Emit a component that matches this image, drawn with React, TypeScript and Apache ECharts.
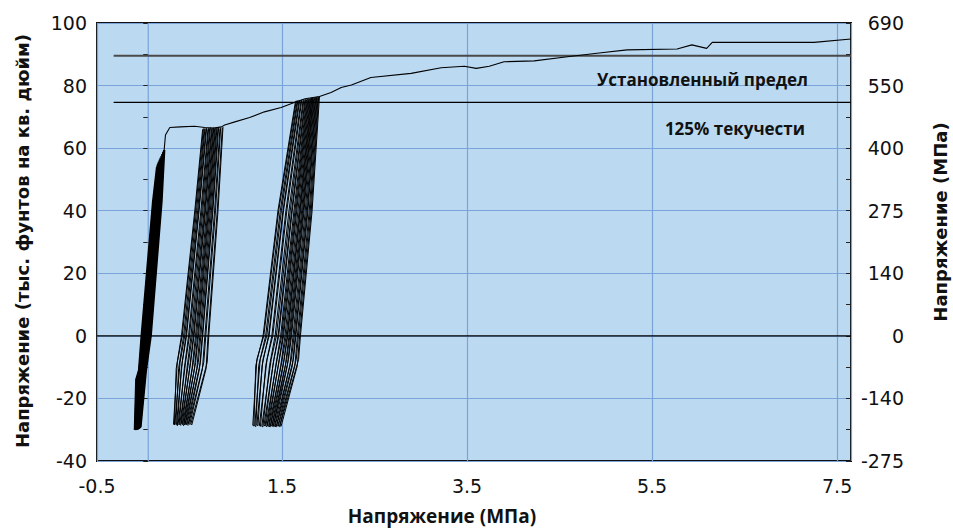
import React, { useEffect, useRef } from 'react';
import * as echarts from 'echarts';

// ---- axis ticks ----
const xTickLabels = ['-0.5', '1.5', '3.5', '5.5', '7.5'];
const yTickValues = [-40, -20, 0, 20, 40, 60, 80, 100];
const yTickLabelsMPa = ['-275', '-140', '0', '140', '275', '400', '550', '690'];

// ---- reference levels (ksi) ----
const specifiedLimit = 89.5;
const yield125 = 74.6;
const refLineStartX = -0.32;
const extraGridX = 0.054;

// ---- monotonic envelope ----
const envelope: number[][] = [
  [0.214, 58], [0.226, 59.4], [0.24, 64.2], [0.287, 66.6], [0.4, 66.8], [0.556, 67.0], [0.665, 66.6],
  [0.76, 66.4], [0.845, 66.8], [0.88, 67.4], [0.99, 68.4], [1.15, 69.8], [1.31, 71.6], [1.49, 73.0],
  [1.654, 74.8], [1.75, 75.8], [1.905, 76.5], [2.03, 77.8], [2.14, 79.4], [2.25, 80.2], [2.46, 82.6],
  [2.895, 83.9], [3.22, 85.7], [3.47, 86.2], [3.6, 85.5], [3.74, 86.2], [3.9, 87.6], [4.225, 87.9],
  [4.585, 89.2], [4.95, 90.5], [5.23, 91.4], [5.77, 91.7], [5.93, 93.0], [6.09, 91.9], [6.15, 93.8],
  [7.25, 93.8], [7.65, 94.9],
];

// ---- cycle group 1 (dense band) ----
const cluster1: number[][][] = [
  [[0.226, 59.4], [0.197, 43], [0.08, 0], [0.028, -11], [-0.030, -29.0], [-0.050, -29.5], [-0.025, -14], [-0.012, -10], [0.05, 0], [0.172, 43], [0.214, 58]],
  [[0.217, 58.8], [0.188, 43], [0.071, 0], [0.02, -11], [-0.037, -29.1], [-0.056, -29.6], [-0.032, -14], [-0.017, -10.2], [0.04, 0], [0.163, 43], [0.205, 57.4]],
  [[0.207, 58.1], [0.179, 43], [0.063, 0], [0.011, -11], [-0.044, -29.2], [-0.062, -29.7], [-0.039, -14], [-0.021, -10.3], [0.031, 0], [0.153, 43], [0.196, 56.9]],
  [[0.198, 57.5], [0.17, 43], [0.054, 0], [0.003, -11], [-0.051, -29.2], [-0.068, -29.7], [-0.046, -14], [-0.026, -10.4], [0.021, 0], [0.144, 43], [0.187, 56.3]],
  [[0.188, 56.9], [0.162, 43], [0.046, 0], [-0.005, -11], [-0.058, -29.3], [-0.074, -29.8], [-0.054, -14], [-0.031, -10.6], [0.012, 0], [0.135, 43], [0.177, 55.7]],
  [[0.179, 56.3], [0.153, 43], [0.037, 0], [-0.013, -11], [-0.065, -29.4], [-0.080, -29.9], [-0.061, -14], [-0.036, -10.7], [0.002, 0], [0.126, 43], [0.168, 55.1]],
  [[0.169, 55.6], [0.144, 43], [0.029, 0], [-0.022, -11], [-0.073, -29.4], [-0.085, -29.9], [-0.068, -14], [-0.04, -10.9], [-0.007, 0], [0.116, 43], [0.159, 54.6]],
  [[0.16, 55.0], [0.135, 43], [0.02, 0], [-0.03, -11], [-0.08, -29.5], [-0.09, -30.0], [-0.075, -14], [-0.045, -11], [-0.017, 0], [0.107, 43], [0.15, 54]],
];

// ---- cycle group 2 (narrow loops) ----
const cluster2: number[][][] = [
  [[0.650, 66.3], [0.565, 40], [0.421, 0], [0.368, -8.5], [0.327, -28.2], [0.337, -28.5], [0.356, -10.5], [0.413, 0], [0.557, 40], [0.642, 66.0]],
  [[0.667, 66.4], [0.588, 40], [0.448, 0], [0.398, -8.5], [0.342, -28.0], [0.352, -28.3], [0.382, -10.5], [0.436, 0], [0.576, 40], [0.659, 66.1]],
  [[0.686, 66.5], [0.604, 40], [0.468, 0], [0.421, -8.5], [0.359, -28.4], [0.369, -28.7], [0.411, -10.5], [0.462, 0], [0.598, 40], [0.678, 66.2]],
  [[0.707, 66.4], [0.633, 40], [0.500, 0], [0.457, -8.5], [0.377, -28.1], [0.387, -28.4], [0.443, -10.5], [0.490, 0], [0.623, 40], [0.699, 66.1]],
  [[0.726, 66.6], [0.657, 40], [0.529, 0], [0.489, -8.5], [0.394, -28.3], [0.404, -28.6], [0.472, -10.5], [0.516, 0], [0.644, 40], [0.718, 66.3]],
  [[0.745, 66.5], [0.673, 40], [0.549, 0], [0.512, -8.5], [0.411, -28.0], [0.421, -28.3], [0.501, -10.5], [0.542, 0], [0.666, 40], [0.737, 66.2]],
  [[0.762, 66.6], [0.697, 40], [0.576, 0], [0.542, -8.5], [0.426, -28.4], [0.436, -28.7], [0.527, -10.5], [0.565, 0], [0.686, 40], [0.754, 66.3]],
  [[0.779, 66.5], [0.714, 40], [0.597, 0], [0.566, -8.5], [0.441, -28.2], [0.451, -28.5], [0.553, -10.5], [0.588, 0], [0.705, 40], [0.771, 66.2]],
  [[0.796, 66.6], [0.737, 40], [0.623, 0], [0.595, -8.5], [0.456, -28.1], [0.466, -28.4], [0.579, -10.5], [0.611, 0], [0.725, 40], [0.788, 66.3]],
  [[0.815, 66.7], [0.753, 40], [0.643, 0], [0.618, -8.5], [0.473, -28.3], [0.483, -28.6], [0.608, -10.5], [0.637, 0], [0.747, 40], [0.807, 66.4]],
  [[0.837, 66.6], [0.781, 40], [0.676, 0], [0.654, -8.5], [0.492, -28.0], [0.502, -28.3], [0.640, -10.5], [0.666, 0], [0.771, 40], [0.829, 66.3]],
  [[0.862, 66.8], [0.808, 40], [0.708, 0], [0.691, -8.5], [0.514, -28.2], [0.524, -28.5], [0.679, -10.5], [0.700, 0], [0.800, 40], [0.854, 66.5]],
];

// ---- cycle group 3 (narrow loops) ----
const cluster3: number[][][] = [
  [[1.654, 75.2], [1.464, 40], [1.303, 0], [1.228, -7.5], [1.184, -28.6], [1.196, -28.8], [1.216, -9.5], [1.295, 0], [1.456, 40], [1.645, 74.9]],
  [[1.672, 75.3], [1.493, 40], [1.335, 0], [1.264, -7.5], [1.205, -28.8], [1.217, -29.0], [1.248, -9.5], [1.323, 0], [1.481, 40], [1.663, 75.0]],
  [[1.692, 75.4], [1.516, 40], [1.360, 0], [1.294, -7.5], [1.228, -28.5], [1.240, -28.7], [1.284, -9.5], [1.354, 0], [1.510, 40], [1.683, 75.1]],
  [[1.714, 75.5], [1.552, 40], [1.400, 0], [1.338, -7.5], [1.255, -28.7], [1.267, -28.9], [1.324, -9.5], [1.390, 0], [1.542, 40], [1.705, 75.2]],
  [[1.737, 75.6], [1.589, 40], [1.439, 0], [1.383, -7.5], [1.281, -28.9], [1.293, -29.1], [1.365, -9.5], [1.425, 0], [1.575, 40], [1.728, 75.3]],
  [[1.757, 75.7], [1.611, 40], [1.464, 0], [1.412, -7.5], [1.305, -28.6], [1.317, -28.8], [1.401, -9.5], [1.457, 0], [1.604, 40], [1.748, 75.4]],
  [[1.774, 75.8], [1.640, 40], [1.496, 0], [1.447, -7.5], [1.325, -28.8], [1.337, -29.0], [1.432, -9.5], [1.485, 0], [1.629, 40], [1.765, 75.5]],
  [[1.790, 75.9], [1.659, 40], [1.517, 0], [1.472, -7.5], [1.343, -28.7], [1.355, -28.9], [1.459, -9.5], [1.508, 0], [1.650, 40], [1.781, 75.6]],
  [[1.805, 76.0], [1.685, 40], [1.545, 0], [1.503, -7.5], [1.360, -28.9], [1.372, -29.1], [1.486, -9.5], [1.532, 0], [1.672, 40], [1.796, 75.7]],
  [[1.820, 76.1], [1.700, 40], [1.562, 0], [1.523, -7.5], [1.378, -28.6], [1.390, -28.8], [1.513, -9.5], [1.556, 0], [1.694, 40], [1.811, 75.8]],
  [[1.832, 76.2], [1.722, 40], [1.585, 0], [1.550, -7.5], [1.393, -28.8], [1.405, -29.0], [1.536, -9.5], [1.575, 0], [1.712, 40], [1.823, 75.9]],
  [[1.845, 76.2], [1.738, 40], [1.603, 0], [1.570, -7.5], [1.407, -28.7], [1.419, -28.9], [1.558, -9.5], [1.595, 0], [1.730, 40], [1.836, 75.9]],
  [[1.860, 76.3], [1.763, 40], [1.631, 0], [1.601, -7.5], [1.425, -28.9], [1.437, -29.1], [1.585, -9.5], [1.619, 0], [1.751, 40], [1.851, 76.0]],
  [[1.875, 76.4], [1.780, 40], [1.650, 0], [1.623, -7.5], [1.443, -28.6], [1.455, -28.8], [1.612, -9.5], [1.643, 0], [1.773, 40], [1.866, 76.1]],
  [[1.890, 76.5], [1.805, 40], [1.677, 0], [1.654, -7.5], [1.460, -28.8], [1.472, -29.0], [1.639, -9.5], [1.666, 0], [1.794, 40], [1.881, 76.2]],
  [[1.905, 76.6], [1.825, 40], [1.699, 0], [1.679, -7.5], [1.478, -28.7], [1.490, -28.9], [1.666, -9.5], [1.690, 0], [1.816, 40], [1.896, 76.3]],
];

const X_MIN = -0.5;
const X_MAX = 7.65;
const Y_MIN = -40;
const Y_MAX = 100;

const PLOT_BG = '#BBDAF2';
const GRID_COLOR = '#7AA3DA';
const SANS = '"DejaVu Sans", "Liberation Sans", sans-serif';
const HUMANIST = '"Open Sans", "Noto Sans", sans-serif';

function lineSeries(data: number[][], color: string, width: number, z = 3) {
  return {
    type: 'line',
    data,
    showSymbol: false,
    symbol: 'none',
    silent: true,
    z,
    lineStyle: { color, width },
    emphasis: { disabled: true },
  };
}

export default function App() {
  const ref = useRef<HTMLDivElement>(null);

  useEffect(() => {
    if (!ref.current) return;
    const chart = echarts.init(ref.current, undefined, { renderer: 'svg' });

    const series: any[] = [];
    series.push(lineSeries([[extraGridX, Y_MIN], [extraGridX, Y_MAX]], GRID_COLOR, 1.2, 1));
    series.push(lineSeries([[X_MIN, 0], [X_MAX, 0]], '#000', 1.3, 2));
    series.push(lineSeries([[refLineStartX, specifiedLimit], [X_MAX, specifiedLimit]], '#4a4a4a', 2, 2));
    series.push(lineSeries([[refLineStartX, yield125], [X_MAX, yield125]], '#000', 1.2, 2));
    cluster1.forEach((loop) => series.push(lineSeries(loop, '#000', 2.4)));
    cluster2.forEach((loop) => series.push(lineSeries(loop, '#000', 1)));
    cluster3.forEach((loop) => series.push(lineSeries(loop, '#000', 1)));
    series.push(lineSeries(envelope, '#000', 1.1, 4));

    const yAxisCommon = {
      type: 'value',
      min: Y_MIN,
      max: Y_MAX,
      interval: 20,
      axisLine: { show: false },
      axisTick: { show: true, inside: true, length: 5, lineStyle: { color: '#222', width: 1 } },
      minorTick: { show: true, splitNumber: 2, length: 5, lineStyle: { color: '#222', width: 1 } },
    };

    chart.setOption({
      animation: false,
      backgroundColor: '#ffffff',
      grid: {
        left: 97,
        right: 102,
        top: 23,
        bottom: 68,
        show: true,
        backgroundColor: PLOT_BG,
        borderColor: '#111',
        borderWidth: 2,
        z: 0,
      },
      xAxis: {
        type: 'value',
        min: X_MIN,
        max: X_MAX,
        interval: 2,
        axisLine: { show: false },
        axisTick: { show: false },
        splitLine: { show: true, lineStyle: { color: GRID_COLOR, width: 1.2 } },
        axisLabel: {
          margin: 15,
          fontSize: 19,
          fontFamily: SANS,
          color: '#111',
          formatter: (v: number) => {
            const s = v.toFixed(1);
            return xTickLabels.includes(s) ? s : '';
          },
        },
      },
      yAxis: [
        {
          ...yAxisCommon,
          position: 'left',
          splitLine: { show: true, lineStyle: { color: GRID_COLOR, width: 1.2 } },
          axisLabel: {
            margin: 10,
            fontSize: 19,
            fontFamily: SANS,
            color: '#111',
            formatter: (v: number) => String(v),
          },
        },
        {
          ...yAxisCommon,
          position: 'right',
          splitLine: { show: false },
          axisLabel: {
            margin: 53,
            align: 'right',
            fontSize: 19,
            fontFamily: SANS,
            color: '#111',
            formatter: (v: number) => {
              const i = yTickValues.indexOf(Math.round(v));
              return i >= 0 ? yTickLabelsMPa[i] : '';
            },
          },
        },
      ],
      series,
      graphic: [
        {
          type: 'text',
          x: 22,
          y: 241,
          rotation: Math.PI / 2,
          style: {
            text: 'Напряжение (тыс. фунтов на кв. дюйм)',
            font: `bold 18px ${SANS}`,
            fill: '#111',
            textAlign: 'center',
            textVerticalAlign: 'middle',
          },
        },
        {
          type: 'text',
          x: 940,
          y: 222,
          rotation: Math.PI / 2,
          style: {
            text: 'Напряжение (МПа)',
            font: `bold 18px ${SANS}`,
            fill: '#111',
            textAlign: 'center',
            textVerticalAlign: 'middle',
          },
        },
        {
          type: 'text',
          x: 442,
          y: 516,
          style: {
            text: 'Напряжение (МПа)',
            font: `bold 19px ${HUMANIST}`,
            fill: '#111',
            textAlign: 'center',
            textVerticalAlign: 'middle',
          },
        },
        {
          type: 'text',
          x: 808,
          y: 79,
          z: 10,
          style: {
            text: 'Установленный предел',
            font: `bold 17px ${HUMANIST}`,
            fill: '#111',
            textAlign: 'right',
            textVerticalAlign: 'middle',
          },
        },
        {
          type: 'text',
          x: 805,
          y: 128,
          z: 10,
          style: {
            text: '125% текучести',
            font: `bold 17px ${HUMANIST}`,
            fill: '#111',
            textAlign: 'right',
            textVerticalAlign: 'middle',
          },
        },
      ],
    });

    return () => chart.dispose();
  }, []);

  return <div ref={ref} style={{ width: 953, height: 529, position: 'absolute', left: 0, top: 0 }} />;
}
